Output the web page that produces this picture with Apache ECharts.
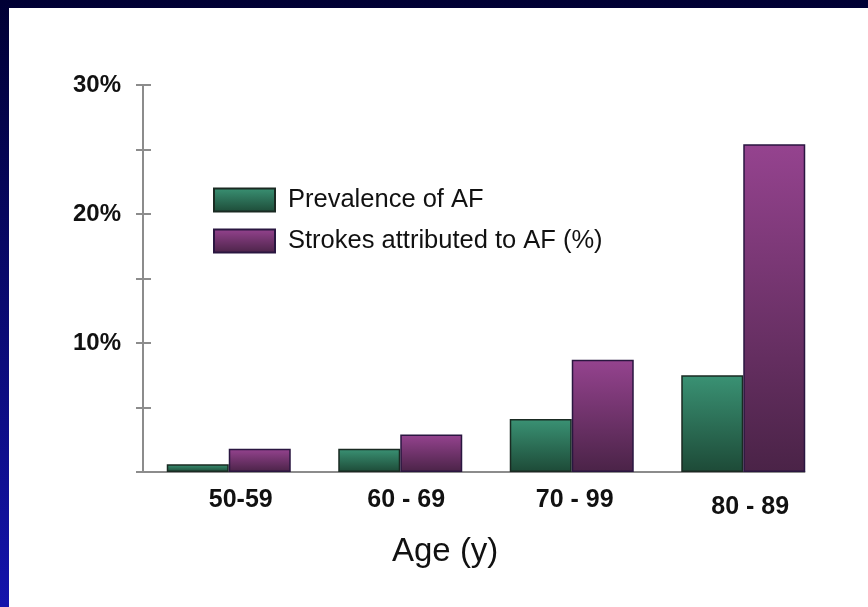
<!DOCTYPE html>
<html>
<head>
<meta charset="utf-8">
<script src="https://cdn.jsdelivr.net/npm/echarts@6/dist/echarts.min.js"></script>
<style>
  html, body { margin: 0; padding: 0; background: #000035; }
  #chart { width: 868px; height: 607px; }
</style>
</head>
<body>
<div id="chart"></div>
<script>
// Age bands and the two measured series (percent)
const ageGroups = ['50-59', '60 - 69', '70 - 99', '80 - 89'];
const prevalenceAF = [0.6, 1.8, 4.1, 7.5];
const strokesAF = [1.8, 2.9, 8.7, 25.4];
const seriesNames = ['Prevalence of AF', 'Strokes attributed to AF (%)'];
const yLabelValues = [10, 20, 30];
const xAxisTitle = 'Age (y)';

// Small per-label nudges for the category captions: [dx, dy]
const captionNudge = [[12, 0], [6, 0], [3, 0], [7, 7]];

const FONT = "'Liberation Sans', Arial, Helvetica, sans-serif";
const BAR_W = 62;

const chart = echarts.init(document.getElementById('chart'));

const greenFill = new echarts.graphic.LinearGradient(0, 0, 0, 1, [
  { offset: 0, color: '#3a9274' },
  { offset: 1, color: '#1d4a37' }
]);
const purpleFill = new echarts.graphic.LinearGradient(0, 0, 0, 1, [
  { offset: 0, color: '#95438f' },
  { offset: 1, color: '#4a2347' }
]);

const categoryItems = ageGroups.map((name, i) => {
  const [dx, dy] = captionNudge[i];
  return {
    value: name,
    textStyle: { padding: [dy, 0, 0, 2 * dx] }
  };
});

const option = {
  animation: false,
  backgroundColor: new echarts.graphic.LinearGradient(0, 0, 0, 1, [
    { offset: 0, color: '#000034' },
    { offset: 1, color: '#1414ac' }
  ]),
  graphic: [
    {
      type: 'rect', id: 'panel', z: -10,
      shape: { x: 9, y: 8, width: 859, height: 599 },
      style: { fill: '#ffffff' }
    },
    {
      // axis caption under the categories
      type: 'text', id: 'xtitle', z: 5,
      x: 392, y: 535,
      style: {
        text: xAxisTitle, x: 0, y: 0,
        font: "normal 33px " + FONT, fill: '#111',
        verticalAlign: 'top'
      }
    }
  ],
  legend: {
    orient: 'vertical',
    left: 213, top: 187, padding: 0,
    itemWidth: 61, itemHeight: 23, itemGap: 15,
    icon: 'rect',
    data: seriesNames,
    textStyle: { fontFamily: FONT, fontSize: 25.5, color: '#111', padding: [0, 0, 0, 8] }
  },
  grid: { left: 143, right: 39, top: 85, bottom: 135, containLabel: false },
  xAxis: {
    type: 'category',
    data: categoryItems,
    axisLine: { show: false },
    axisTick: { show: false },
    axisLabel: {
      margin: 16,
      fontFamily: FONT, fontSize: 25, fontWeight: 'bold', color: '#111'
    }
  },
  yAxis: [
    {
      type: 'value', min: 0, max: 30, interval: 5,
      splitLine: { show: false },
      axisLine: { show: true, lineStyle: { color: '#8c8c8c', width: 2 } },
      axisTick: { show: true, length: 7, lineStyle: { color: '#8c8c8c', width: 2 } },
      axisLabel: {
        margin: 22,
        fontFamily: FONT, fontSize: 24, fontWeight: 'bold', color: '#111',
        formatter: v => (yLabelValues.includes(v) ? v + '%' : '')
      }
    },
    {
      // inner half of the cross ticks
      type: 'value', min: 0, max: 30, interval: 5, position: 'left',
      splitLine: { show: false },
      axisLine: { show: false },
      axisTick: { show: true, inside: true, length: 8, lineStyle: { color: '#8c8c8c', width: 2 } },
      axisLabel: { show: false }
    }
  ],
  series: [
    {
      name: seriesNames[0], type: 'bar', data: prevalenceAF,
      barWidth: BAR_W, barGap: '0%',
      itemStyle: { color: greenFill, borderColor: '#1a2a22', borderWidth: 1.5 }
    },
    {
      name: seriesNames[1], type: 'bar', data: strokesAF,
      barWidth: BAR_W, barGap: '0%',
      itemStyle: { color: purpleFill, borderColor: '#2a1640', borderWidth: 1.5 }
    }
  ]
};

chart.setOption(option);

// Baseline runs from the value axis to the right edge of the last bar
const origin = chart.convertToPixel({ xAxisIndex: 0, yAxisIndex: 0 }, [0, 0]);
const lastCenter = chart.convertToPixel({ xAxisIndex: 0, yAxisIndex: 0 }, [ageGroups.length - 1, 0]);
const gridLeft = chart.getModel().getComponent('grid', 0).coordinateSystem.getRect().x;
chart.setOption({
  graphic: [
    {
      type: 'line', id: 'baseline', z: 1,
      shape: { x1: gridLeft, y1: origin[1], x2: lastCenter[0] + BAR_W, y2: origin[1] },
      style: { stroke: '#8c8c8c', lineWidth: 2 }
    }
  ]
});
</script>
</body>
</html>
